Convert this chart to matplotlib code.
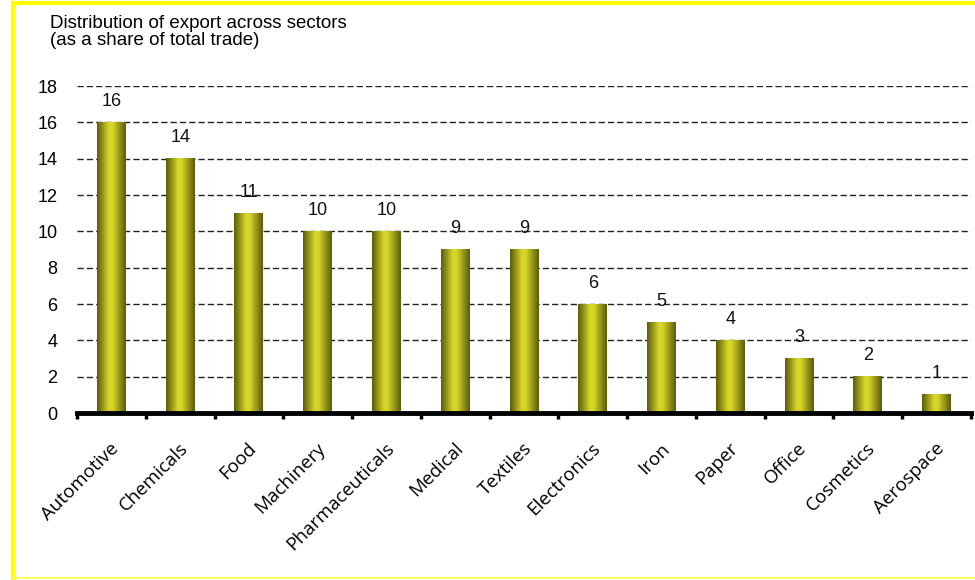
import numpy as np
import matplotlib
matplotlib.use("Agg")
import matplotlib.pyplot as plt
from matplotlib.lines import Line2D
from matplotlib.colors import LinearSegmentedColormap

categories = ["Automotive", "Chemicals", "Food", "Machinery", "Pharmaceuticals",
              "Medical", "Textiles", "Electronics", "Iron", "Paper", "Office",
              "Cosmetics", "Aerospace"]
values = [16, 14, 11, 10, 10, 9, 9, 6, 5, 4, 3, 2, 1]
yticks = [0, 2, 4, 6, 8, 10, 12, 14, 16, 18]

W, H = 975, 580
fig = plt.figure(figsize=(W / 100, H / 100), dpi=100)
ax = fig.add_axes([77 / W, 1 - 413 / H, (971 - 77) / W, (413 - 86) / H])

x = np.arange(len(categories))
bars = ax.bar(x, values, width=0.42, color="none", edgecolor="none", zorder=3)

cmap = LinearSegmentedColormap.from_list(
    "olive", [(0.0, "#5c5c0c"), (0.42, "#d8d82a"), (0.55, "#d4d428"), (1.0, "#5c5c0c")])
grad = np.linspace(0, 1, 64).reshape(1, -1)
for b in bars:
    x0, y0 = b.get_x(), b.get_y()
    w, h = b.get_width(), b.get_height()
    ax.imshow(grad, cmap=cmap, extent=[x0, x0 + w, y0, y0 + h],
              aspect="auto", zorder=3, interpolation="bicubic")
    ax.text(x0 + w / 2, y0 + h + 0.9, f"{int(h)}", ha="center", va="baseline",
            fontsize=13, family="Liberation Sans", color="#111111")

ax.set_xlim(-0.5, len(categories) - 0.5)
ax.set_ylim(0, 18)
ax.set_yticks(yticks)
ax.set_yticklabels([str(t) for t in yticks], family="Liberation Sans", fontsize=13)
ax.tick_params(axis="y", length=0, pad=14)
for t in yticks[1:]:
    ax.axhline(t, color="#222222", lw=1.0, ls=(0, (4.5, 2.2)), zorder=1)

ax.set_xticks(np.arange(len(categories) + 1) - 0.5, minor=False)
ax.set_xticklabels([])
ax.tick_params(axis="x", length=4, width=2.5, color="black", direction="out")
for xi, c in zip(x, categories):
    ax.text(xi - 0.02, -1.45, c, rotation=45, ha="right", va="top",
            rotation_mode="anchor", fontsize=13.5, family="Open Sans")

for s in ["left", "right", "top"]:
    ax.spines[s].set_visible(False)
ax.spines["bottom"].set_linewidth(3.5)
ax.spines["bottom"].set_zorder(5)

fig.text(50 / W, 1 - 15 / H, "Distribution of export across sectors\n(as a share of total trade)",
         ha="left", va="top", fontsize=13.5, family="Liberation Sans", linespacing=1.0)

# yellow frame
fig.add_artist(Line2D([13 / W, 1], [1 - 3 / H, 1 - 3 / H], color="#ffff00", lw=3,
                      transform=fig.transFigure))
fig.add_artist(Line2D([13 / W, 13 / W], [1 - 3 / H, 1 - 578 / H], color="#ffff00", lw=3,
                      transform=fig.transFigure))
fig.add_artist(Line2D([13 / W, 1], [1 - 578 / H, 1 - 578 / H], color="#ffff60", lw=1.5,
                      transform=fig.transFigure))

fig.savefig("out.png", dpi=100)
